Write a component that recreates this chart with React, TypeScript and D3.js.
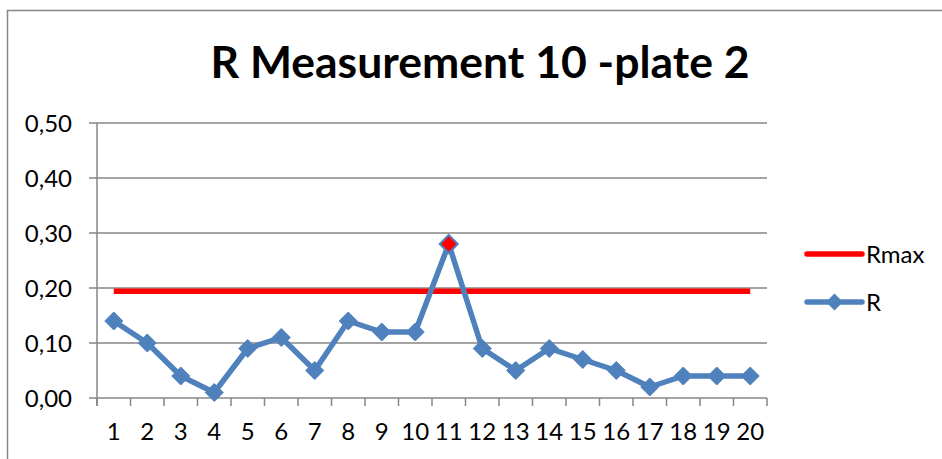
import React from "react";
import * as d3 from "d3";

const categories = ["1","2","3","4","5","6","7","8","9","10","11","12","13","14","15","16","17","18","19","20"];
const rValues = [0.14,0.10,0.04,0.01,0.09,0.11,0.05,0.14,0.12,0.12,0.28,0.09,0.05,0.09,0.07,0.05,0.02,0.04,0.04,0.04];
const rMax = 0.194;
const yTicks = [0, 0.1, 0.2, 0.3, 0.4, 0.5];
const title = "R Measurement 10 -plate 2";
const seriesNames = ["Rmax", "R"];

const W = 942, H = 459;
const plot = { left: 97, right: 767, top: 123, bottom: 398 };
const BLUE = "#4F81BD";
const RED = "#FF0000";
const GRID = "#868686";
const FONT = "Lato, 'Liberation Sans', Arial, sans-serif";

export default function App() {
  const x = d3.scaleBand<string>().domain(categories).range([plot.left, plot.right]);
  const y = d3.scaleLinear().domain([0, 0.5]).range([plot.bottom, plot.top]);
  const cx = (c: string) => (x(c) ?? 0) + x.bandwidth() / 2;
  const fmt = (v: number) => v.toFixed(2).replace(".", ",");

  const line = d3.line<number>().x((_, i) => cx(categories[i])).y(d => y(d));
  const maxIdx = rValues.indexOf(d3.max(rValues)!);
  const diamond = (px: number, py: number, r: number) =>
    `M${px},${py - r}L${px + r},${py}L${px},${py + r}L${px - r},${py}Z`;

  const bandEdges = categories.map(c => x(c) ?? 0).concat([plot.right]);

  return (
    <svg width={W} height={H} style={{ position: "absolute", left: 0, top: 0, background: "#fff" }}>
      {/* outer chart frame */}
      <path d={`M7.5,${H + 2}V10.5H${W + 2}`} fill="none" stroke={GRID} strokeWidth={1.5} />

      <text x={480} y={78} textAnchor="middle" fontFamily={FONT} fontWeight="bold" fontSize={44.5} fill="#000">
        {title}
      </text>

      {/* gridlines and y axis ticks */}
      {yTicks.map(t => (
        <g key={t}>
          <line x1={plot.left - 8} x2={plot.right} y1={y(t)} y2={y(t)} stroke={GRID} strokeWidth={1.5} />
          <text x={72} y={y(t)} dy="0.36em" textAnchor="end" fontFamily={FONT} fontSize={24} fill="#000">
            {fmt(t)}
          </text>
        </g>
      ))}
      <line x1={plot.left} x2={plot.left} y1={plot.top} y2={plot.bottom + 8} stroke={GRID} strokeWidth={1.5} />

      {/* x axis tick marks and labels */}
      {bandEdges.map((e, i) => (
        <line key={i} x1={e} x2={e} y1={plot.bottom} y2={plot.bottom + 8} stroke={GRID} strokeWidth={1.5} />
      ))}
      {categories.map(c => (
        <text key={c} x={cx(c)} y={440} textAnchor="middle" fontFamily={FONT} fontSize={24} fill="#000">
          {c}
        </text>
      ))}

      {/* Rmax limit */}
      <line x1={cx(categories[0])} x2={cx(categories[categories.length - 1])} y1={y(rMax)} y2={y(rMax)}
        stroke={RED} strokeWidth={5.5} />

      {/* R series */}
      <path d={line(rValues) ?? ""} fill="none" stroke={BLUE} strokeWidth={5.5} strokeLinejoin="round" />
      {rValues.map((v, i) => (
        <path key={i} d={diamond(cx(categories[i]), y(v), 9)}
          fill={i === maxIdx ? RED : BLUE} stroke={BLUE} strokeWidth={i === maxIdx ? 2 : 1} />
      ))}

      {/* legend */}
      <line x1={807} x2={862} y1={254} y2={254} stroke={RED} strokeWidth={5.5} strokeLinecap="round" />
      <text x={866} y={254} dy="0.36em" fontFamily={FONT} fontSize={24} fill="#000">{seriesNames[0]}</text>
      <line x1={807} x2={862} y1={302} y2={302} stroke={BLUE} strokeWidth={5.5} strokeLinecap="round" />
      <path d={diamond(834.5, 302, 8.5)} fill={BLUE} />
      <text x={866} y={302} dy="0.36em" fontFamily={FONT} fontSize={24} fill="#000">{seriesNames[1]}</text>
    </svg>
  );
}
